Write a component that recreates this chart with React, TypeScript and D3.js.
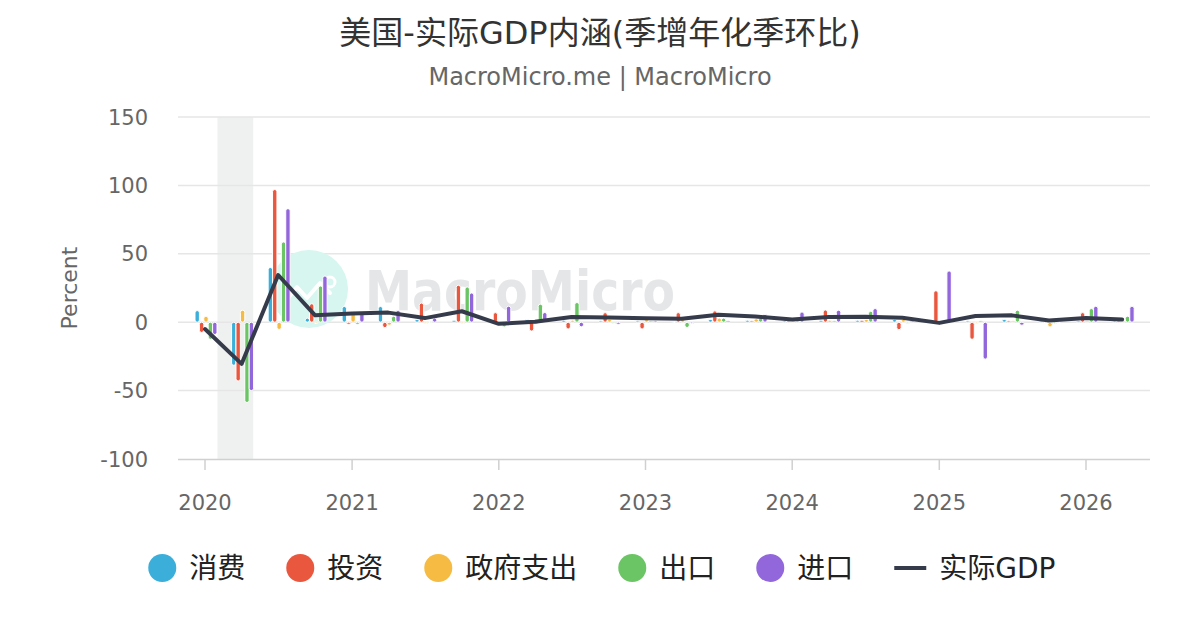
import { useEffect, useRef } from "react";
import * as d3 from "d3";

// quarterly data, dated at the start of each quarter
const quarters = [
  "2020-01-01", "2020-04-01", "2020-07-01", "2020-10-01",
  "2021-01-01", "2021-04-01", "2021-07-01", "2021-10-01",
  "2022-01-01", "2022-04-01", "2022-07-01", "2022-10-01",
  "2023-01-01", "2023-04-01", "2023-07-01", "2023-10-01",
  "2024-01-01", "2024-04-01", "2024-07-01", "2024-10-01",
  "2025-01-01", "2025-04-01", "2025-07-01", "2025-10-01",
  "2026-01-01", "2026-04-01",
];
const consumption = [8.5, -31.5, 40, 3, 11.5, 11.5, 2, 1.5, 1, 2, 1.5, 1, 1, 0.5, 2, 1.5, 1, 1.5, 1.5, 2, 0.5, 1, 2, 1, 1, 1];
const investment = [-7.5, -43, 97, 13.5, -1.5, -4, 14, 27, 7, -6.5, -5, 7, -5, 7, 8.3, 1, 1, 9, 1.5, -5.5, 23, -12.5, 1, 0.5, 7, 1];
const government = [4.4, 8.8, -5.3, -1, 8, -2.2, -1, -1, -2, -1.5, 1.5, 2, 2, 2, 3, 2.5, 1, 1.5, 2, 2, -0.5, -0.5, 1, -3.5, 1, 1];
const exportsGrowth = [-12.5, -58.7, 58.7, 26.5, -1.5, 4.4, 0.5, 25.8, -3.5, 13.2, 14.4, -1, 1, -3.9, 3, 3, 1, 1, 8, -0.5, 0.5, 1, 8.8, -1, 10, 4.4];
const importsGrowth = [-9, -50, 83, 33.8, 7.5, 8.8, 3, 21.4, 11.7, 7.1, -3.4, -1.5, 1, -1, 1, 5.8, 7.5, 8.8, 10, 1, 37.5, -27, -2.2, 0.5, 11.7, 11.7];
const realGdp = [-5, -30.5, 34.5, 5, 6.3, 7, 3, 8, -1.2, 0.3, 3.8, 3.4, 2.8, 2.6, 5.5, 4.2, 2, 3.8, 4, 3.2, -0.5, 4.5, 5, 1.2, 3, 2];

const seriesNames = ["消费", "投资", "政府支出", "出口", "进口"];
const seriesValues = [consumption, investment, government, exportsGrowth, importsGrowth];
const seriesColors = ["#3bafda", "#e9573f", "#f6bb42", "#6cc565", "#9367dc"];
const lineName = "实际GDP";
const lineColor = "#363b4c";

const yTicks = [150, 100, 50, 0, -50, -100];
const xTicks = ["2020-01-01", "2021-01-01", "2022-01-01", "2023-01-01", "2024-01-01", "2025-01-01", "2026-01-01"];
const recession = ["2020-02-01", "2020-04-30"];

const title = "美国-实际GDP内涵(季增年化季环比)";
const subtitle = "MacroMicro.me | MacroMicro";

const font = "'DejaVu Sans', 'Noto Sans CJK SC', sans-serif";

const Chart = () => {
  const ref = useRef<SVGSVGElement>(null);

  useEffect(() => {
    const svg = d3.select(ref.current);
    svg.selectAll("*").remove();

    const width = 1200;
    const height = 630;
    const plot = { left: 178, right: 1150, top: 117, bottom: 459 };
    const parse = d3.timeParse("%Y-%m-%d");
    const dates = quarters.map(d => parse(d) as Date);

    const x = d3.scaleTime()
      .domain([parse("2020-01-01") as Date, parse("2026-01-01") as Date])
      .range([205, 1086]);
    const y = d3.scaleLinear().domain([-100, 150]).range([plot.bottom, plot.top]);
    const inner = d3.scaleBand<number>().domain(d3.range(seriesNames.length)).range([-10, 12]);

    svg.append("rect").attr("width", width).attr("height", height).attr("fill", "#fff");

    // titles
    svg.append("text")
      .attr("x", width / 2).attr("y", 44)
      .attr("text-anchor", "middle")
      .attr("font-size", 32).attr("fill", "#333")
      .text(title);
    svg.append("text")
      .attr("x", width / 2).attr("y", 85)
      .attr("text-anchor", "middle")
      .attr("font-size", 24).attr("fill", "#666")
      .text(subtitle);

    // recession band
    svg.append("rect")
      .attr("x", x(parse(recession[0]) as Date))
      .attr("width", x(parse(recession[1]) as Date) - x(parse(recession[0]) as Date))
      .attr("y", plot.top)
      .attr("height", plot.bottom - plot.top)
      .attr("fill", "#eff1f1");

    // grid
    svg.append("g")
      .selectAll("line")
      .data(yTicks.filter(t => t !== -100))
      .join("line")
      .attr("x1", plot.left).attr("x2", plot.right)
      .attr("y1", d => y(d)).attr("y2", d => y(d))
      .attr("stroke", "#e6e6e6").attr("stroke-width", 1.5);

    // watermark
    const wm = svg.append("g");
    wm.append("circle").attr("cx", 309).attr("cy", 289).attr("r", 39).attr("fill", "#d6f6ef");
    wm.append("polyline")
      .attr("points", "285,302 297,287 307,298 320,283 330,293")
      .attr("fill", "none").attr("stroke", "#fff").attr("stroke-width", 4)
      .attr("stroke-linejoin", "round").attr("stroke-linecap", "round");
    wm.append("circle").attr("cx", 330).attr("cy", 282).attr("r", 5)
      .attr("fill", "none").attr("stroke", "#fff").attr("stroke-width", 3);
    wm.append("text")
      .attr("x", 365).attr("y", 310)
      .attr("font-size", 56).attr("font-weight", 600)
      .attr("textLength", 310).attr("lengthAdjust", "spacingAndGlyphs")
      .attr("fill", "#e5e6e8")
      .text("MacroMicro");

    // y axis
    svg.append("g")
      .selectAll("text")
      .data(yTicks)
      .join("text")
      .attr("x", 148).attr("y", d => y(d)).attr("dy", "0.36em")
      .attr("text-anchor", "end")
      .attr("font-size", 21).attr("fill", "#666")
      .text(d => d);
    svg.append("text")
      .attr("transform", `translate(77, ${(plot.top + plot.bottom) / 2}) rotate(-90)`)
      .attr("text-anchor", "middle")
      .attr("font-size", 22).attr("fill", "#666")
      .text("Percent");

    // x axis
    svg.append("line")
      .attr("x1", plot.left).attr("x2", plot.right)
      .attr("y1", plot.bottom + 0.5).attr("y2", plot.bottom + 0.5)
      .attr("stroke", "#d0d0d0").attr("stroke-width", 1.5);
    const xt = svg.append("g").selectAll("g").data(xTicks).join("g")
      .attr("transform", d => `translate(${x(parse(d) as Date)}, 0)`);
    xt.append("line")
      .attr("y1", plot.bottom).attr("y2", plot.bottom + 11)
      .attr("stroke", "#d0d0d0").attr("stroke-width", 1.5);
    xt.append("text")
      .attr("y", 510).attr("text-anchor", "middle")
      .attr("font-size", 21).attr("fill", "#666")
      .text(d => d.slice(0, 4));

    // bars
    const bw = inner.bandwidth();
    seriesValues.forEach((vals, si) => {
      svg.append("g")
        .selectAll("rect")
        .data(vals)
        .join("rect")
        .attr("x", (_, i) => x(dates[i]) + (inner(si) as number))
        .attr("width", bw)
        .attr("y", d => Math.min(y(d), y(0)))
        .attr("height", d => Math.max(Math.abs(y(d) - y(0)), 1))
        .attr("rx", bw / 2)
        .attr("fill", seriesColors[si])
        .attr("stroke", "#fff").attr("stroke-width", 1);
    });

    // GDP line
    const line = d3.line<number>()
      .x((_, i) => x(dates[i]))
      .y(d => y(d));
    svg.append("path")
      .datum(realGdp)
      .attr("d", line)
      .attr("fill", "none")
      .attr("stroke", lineColor)
      .attr("stroke-width", 4)
      .attr("stroke-linejoin", "round")
      .attr("stroke-linecap", "round");

    // legend
    const legendItems = [
      ...seriesNames.map((n, i) => ({ name: n, color: seriesColors[i], line: false })),
      { name: lineName, color: lineColor, line: true },
    ];
    const fs = 28;
    const textW = (s: string) => Array.from(s).reduce((w, ch) => w + (/[\u4e00-\u9fff]/.test(ch) ? fs : fs * 0.72), 0);
    const symW = (it: { line: boolean }) => (it.line ? 32 : 28);
    const gap = 41;
    const widths = legendItems.map(it => symW(it) + 13 + textW(it.name));
    const total = d3.sum(widths) + gap * (legendItems.length - 1);
    let lx = width / 2 - total / 2 + 2;
    const ly = 568;
    const lg = svg.append("g");
    legendItems.forEach((it, i) => {
      if (it.line) {
        lg.append("line")
          .attr("x1", lx).attr("x2", lx + 32)
          .attr("y1", ly).attr("y2", ly)
          .attr("stroke", it.color).attr("stroke-width", 4);
      } else {
        lg.append("circle").attr("cx", lx + 14).attr("cy", ly).attr("r", 14).attr("fill", it.color);
      }
      lg.append("text")
        .attr("x", lx + symW(it) + 13).attr("y", ly).attr("dy", "0.36em")
        .attr("font-size", fs).attr("fill", "#222")
        .text(it.name);
      lx += widths[i] + gap;
    });
  }, []);

  return <svg ref={ref} width={1200} height={630} style={{ display: "block", fontFamily: font }} />;
};

export default function App() {
  return (
    <div style={{ position: "absolute", left: 0, top: 0 }}>
      <Chart />
    </div>
  );
}
